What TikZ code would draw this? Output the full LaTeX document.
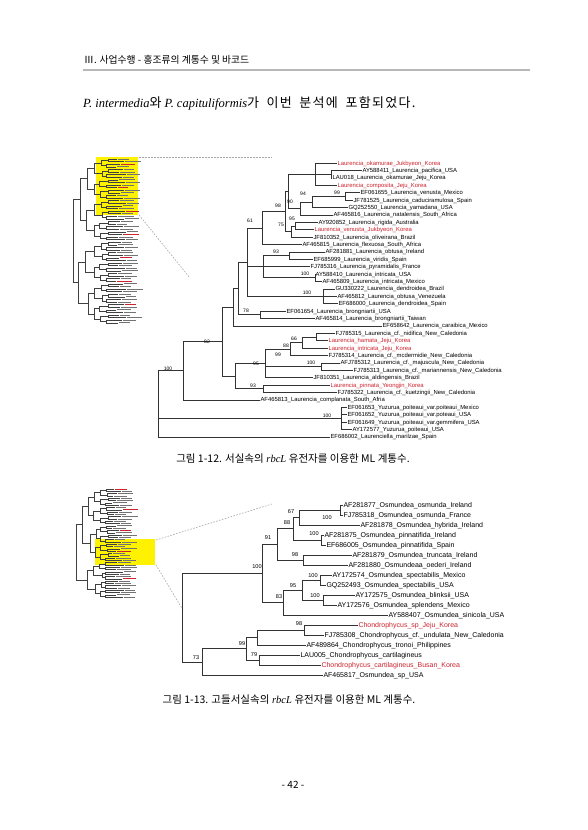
\documentclass[tikz,border=0pt]{standalone}
\usepackage{fontspec}
\setmainfont{Liberation Serif}
\newfontfamily\kr{Noto Sans CJK KR}
\newfontfamily\krw[LetterSpace=10,WordSpace=1.8]{Noto Sans CJK KR}
\newfontfamily\arial{Liberation Sans}
\definecolor{lred}{RGB}{205,35,45}
\definecolor{hl}{RGB}{255,242,0}
\newcommand\minitree[7]{%
 \foreach \L in {1,...,#3}{%
  \pgfmathtruncatemacro\nn{2^(#3-\L)-1}%
  \foreach \j in {0,...,\nn}{%
   \pgfmathsetmacro\xn{#4+(#3-\L)*#5-mod(\j*(\L+#7)+#7,4)}%
   \pgfmathtruncatemacro\ca{2*\j}%
   \pgfmathtruncatemacro\cb{2*\j+1}%
   \pgfmathsetmacro\ya{#1+#2*(\ca*2^(\L-1)+(2^(\L-1)-1)/2)}%
   \pgfmathsetmacro\yb{#1+#2*(\cb*2^(\L-1)+(2^(\L-1)-1)/2)}%
   \ifnum\L=1
     \pgfmathsetmacro\xa{#6+mod(\ca*7+#7,11)}%
     \pgfmathsetmacro\xb{#6+mod(\cb*7+#7,11)}%
   \else
     \pgfmathsetmacro\xa{#4+(#3-\L+1)*#5-mod(\ca*(\L-1+#7)+#7,4)}%
     \pgfmathsetmacro\xb{#4+(#3-\L+1)*#5-mod(\cb*(\L-1+#7)+#7,4)}%
   \fi
   \draw[thb] (\xa,\ya) -- (\xn,\ya) -- (\xn,\yb) -- (\xb,\yb);%
  }%
 }%
 \pgfmathtruncatemacro\nl{2^#3-1}%
 \foreach \i in {0,...,\nl}{%
   \pgfmathsetmacro\xl{#6+mod(\i*7+#7,11)+1}%
   \pgfmathsetmacro\xe{\xl+10+mod(\i*5+#7,7)}%
   \pgfmathsetmacro\yl{#1+#2*\i}%
   \pgfmathtruncatemacro\rr{mod(\i*5+#7,9)==2 ? 1 : 0}%
   \ifnum\rr=1 \def\cc{lred}\else\def\cc{black!55}\fi
   \draw[line width=0.8pt, draw=\cc] (\xl,\yl) -- (\xe,\yl);%
 }%
}
\begin{document}
\begin{tikzpicture}[x=1pt,y=-1pt,
  br/.style={draw=black!80, line width=0.45pt},
  brb/.style={draw=black!80, line width=0.55pt},
  thb/.style={draw=black!75, line width=0.35pt},
  lfa/.style={font=\arial\fontsize{5.9}{6}\selectfont, anchor=west, inner sep=0.3pt, text height=4.3pt, text depth=0.3pt},
  lfb/.style={font=\arial\fontsize{7}{7}\selectfont, anchor=west, inner sep=0.3pt, text height=5.1pt, text depth=0.3pt},
  bsa/.style={font=\arial\fontsize{5}{5}\selectfont, inner sep=0pt},
  bsb/.style={font=\arial\fontsize{5.6}{6}\selectfont, inner sep=0pt},
  dsh/.style={draw=black!35, line width=0.6pt, dash pattern=on 1.6pt off 1.4pt}
]
\fill[white] (0,0) rectangle (587,830);
\useasboundingbox (0,0) rectangle (587,830);

% header
\node[anchor=west, inner sep=0pt] (hdr) at (84,60) {\kr\fontsize{9.8}{11}\selectfont Ⅲ. 사업수행 - 홍조류의 계통수 및 바코드};
\draw[draw=black!28, line width=2pt] (83,70) -- (530,70);
\node[anchor=west, inner sep=0pt] (intro) at (83,103) {\fontsize{12.5}{14}\selectfont\textit{P. intermedia}{\krw\fontsize{13}{14}\selectfont 와} \textit{P. capituliformis}{\krw\fontsize{13}{14}\selectfont 가 이번 분석에 포함되었다.}};

% ---------- thumbnail 1
\fill[hl] (96,157) rectangle (138,215);
\minitree{159}{2.6}{6}{74}{7}{116}{1}
\draw[dsh] (139,157) -- (272,157);
\draw[dsh] (139,215) -- (190,278);

% ---------- tree 1 leaves
\foreach \x/\c/\t [count=\i] in {
337/lred/Laurencia\_okamurae\_Jukbyeon\_Korea,
362/black/AY588411\_Laurencia\_pacifica\_USA,
332/black/LAU018\_Laurencia\_okamurae\_Jeju\_Korea,
337/lred/Laurencia\_composita\_Jeju\_Korea,
360/black/EF061655\_Laurencia\_venusta\_Mexico,
353/black/JF781525\_Laurencia\_caduciramulosa\_Spain,
348/black/GQ252550\_Laurencia\_yamadana\_USA,
333/black/AF465816\_Laurencia\_natalensis\_South\_Africa,
318/black/AY920852\_Laurencia\_rigida\_Australia,
314/lred/Laurencia\_venusta\_Jukbyeon\_Korea,
313/black/JF810352\_Laurencia\_oliveirana\_Brazil,
302/black/AF465815\_Laurencia\_flexuosa\_South\_Africa,
325/black/AF281881\_Laurencia\_obtusa\_Ireland,
313/black/EF685999\_Laurencia\_viridis\_Spain,
310/black/FJ785316\_Laurencia\_pyramidalis\_France,
315/black/AY588410\_Laurencia\_intricata\_USA,
322/black/AF465809\_Laurencia\_intricata\_Mexico,
335/black/GU330222\_Laurencia\_dendroidea\_Brazil,
337/black/AF465812\_Laurencia\_obtusa\_Venezuela,
338/black/EF686000\_Laurencia\_dendroidea\_Spain,
286/black/EF061654\_Laurencia\_brongniartii\_USA,
315/black/AF465814\_Laurencia\_brongniartii\_Taiwan,
382/black/EF658642\_Laurencia\_caraibica\_Mexico,
335/black/FJ785315\_Laurencia\_cf.\_nidifica\_New\_Caledonia,
328/lred/Laurencia\_hamata\_Jeju\_Korea,
328/lred/Laurencia\_intricata\_Jeju\_Korea,
328/black/FJ785314\_Laurencia\_cf.\_mcdermidie\_New\_Caledonia,
340/black/AFJ785312\_Laurencia\_cf.\_majuscula\_New\_Caledonia,
353/black/FJ785313\_Laurencia\_cf.\_mariannensis\_New\_Caledonia,
313/black/JF810351\_Laurencia\_aldingensis\_Brazil,
330/lred/Laurencia\_pinnata\_Yeongjin\_Korea,
337/black/FJ785322\_Laurencia\_cf.\_kuetzingii\_New\_Caledonia,
260/black/AF465813\_Laurencia\_complanata\_South\_Afria,
347/black/EF061653\_Yuzurua\_poiteaui\_var.poiteaui\_Mexico,
347/black/EF061652\_Yuzurua\_poiteaui\_var.poteaui\_USA,
347/black/EF061649\_Yuzurua\_poiteaui\_var.gemmifera\_USA,
352/black/AY172577\_Yuzurua\_poiteaui\_USA,
330/black/EF686002\_Laurenciella\_marilzae\_Spain}
{\pgfmathsetmacro\yy{163+7.4*(\i-1)}
 \node[lfa, text=\c] (L\i) at (\x,\yy) {\t};}

% tree 1 internal nodes
\coordinate (ta2) at (331,174.1);
\coordinate (tcA) at (315,174.1);
\coordinate (t99) at (345,196.3);
\coordinate (t94) at (312,201.85);
\coordinate (t90) at (300,208.3);
\coordinate (tV) at (288,191.2);
\coordinate (t95) at (295,225.9);
\coordinate (t75) at (291,231.45);
\coordinate (tU) at (285,211.3);
\coordinate (t61) at (262,227.9);
\coordinate (t93) at (289,255.5);
\coordinate (t100d) at (315,277.7);
\coordinate (tB) at (263,266.6);
\coordinate (t100e) at (323,296.2);
\coordinate (tA) at (247,262);
\coordinate (t78) at (260,314.7);
\coordinate (tC) at (238,288.4);
\coordinate (tD) at (233,307.1);
\coordinate (t66) at (316,336.9);
\coordinate (t88) at (302,342.45);
\coordinate (t99b) at (290,348.9);
\coordinate (t100c) at (321,366.5);
\coordinate (t95b) at (265,363.25);
\coordinate (t93b) at (263,388.7);
\coordinate (tX) at (235,376);
\coordinate (t82) at (222,341.5);
\coordinate (t100a) at (183,370.65);
\coordinate (t100f) at (341,418.3);
\coordinate (troot) at (158,403.7);

\foreach \p/\c in {ta2/L2, ta2/L3, tcA/L1, tcA/ta2, tcA/L4, t99/L5, t99/L6, t94/t99, t94/L7,
 t90/t94, t90/L8, tV/tcA, tV/t90, t95/L9, t95/L10, t75/t95, t75/L11, tU/tV, tU/t75, t61/tU, t61/L12,
 t93/L13, t93/L14, t100d/L16, t100d/L17, tB/t93, tB/L15, tB/t100d, t100e/L18, t100e/L19, t100e/L20,
 tA/t61, tA/tB, tA/t100e, t78/L21, t78/L22, tC/tA, tC/t78, tD/tC, tD/L23, t66/L24, t66/L25, t88/t66,
 t88/L26, t99b/t88, t99b/L27, t100c/L28, t100c/L29, t95b/t99b, t95b/t100c, t95b/L30, t93b/L31,
 t93b/L32, tX/t95b, tX/t93b, t82/tD, t82/tX, t100a/t82, t100a/L33, t100f/L34, t100f/L35, t100f/L36,
 t100f/L37, troot/t100a, troot/t100f, troot/L38}
 {\draw[br] (\p) |- (\c);}

\foreach \t/\x/\y [count=\k] in {61/250/221, 98/278/206, 90/290/202, 94/303/194, 99/337/193,
 75/281/225, 95/292/219, 93/276/252, 100/305/274, 100/307/293, 78/246/311, 100/168/369, 82/207/342,
 66/294/339, 88/286/346, 99/278/355, 100/311/363, 95/256/364, 93/253/386, 100/327/416}
 {\node[bsa] (bs\k) at (\x,\y) {\t};}

\node[inner sep=0pt] (cap1) at (293,459) {\fontsize{10.5}{12}\selectfont{\kr 그림 1-12. 서실속의} \textit{rbcL} {\kr 유전자를 이용한 ML 계통수.}};

% ---------- thumbnail 2
\fill[hl] (95,539) rectangle (155,565);
\minitree{489}{2.3}{5}{84}{6}{112}{2}
\minitree{562.6}{2.3}{4}{90}{6}{114}{3}
\draw[thb] (82,524.65) -- (76,524.65) -- (76,579.85) -- (87,579.85);
\draw[dsh] (156,540) -- (272,504);
\draw[dsh] (156,565) -- (183,610);

% ---------- tree 2 leaves
\foreach \x/\c/\t [count=\i] in {
343/black/AF281877\_Osmundea\_osmunda\_Ireland,
343/black/FJ785318\_Osmundea\_osmunda\_France,
360/black/AF281878\_Osmundea\_hybrida\_Ireland,
324/black/AF281875\_Osmundea\_pinnatifida\_Ireland,
326/black/EF686005\_Osmundea\_pinnatifida\_Spain,
352/black/AF281879\_Osmundea\_truncata\_Ireland,
348/black/AF281880\_Osmundeaa\_oederi\_Ireland,
332/black/AY172574\_Osmundea\_spectabilis\_Mexico,
326/black/GQ252493\_Osmundea\_spectabilis\_USA,
355/black/AY172575\_Osmundea\_blinksii\_USA,
337/black/AY172576\_Osmundea\_splendens\_Mexico,
388/black/AY588407\_Osmundea\_sinicola\_USA,
358/lred/Chondrophycus\_sp\_Jeju\_Korea,
324/black/FJ785308\_Chondrophycus\_cf.\_undulata\_New\_Caledonia,
306/black/AF489864\_Chondrophycus\_tronoi\_Philippines,
300/black/LAU005\_Chondrophycus\_cartilagineus,
321/lred/Chondrophycus\_cartilagineus\_Busan\_Korea,
323/black/AF465817\_Osmundea\_sp\_USA}
{\pgfmathsetmacro\yy{505+10*(\i-1)}
 \node[lfb, text=\c] (M\i) at (\x,\yy) {\t};}

\coordinate (u100a) at (340,510);
\coordinate (u67) at (299,517.5);
\coordinate (u100b) at (321,540);
\coordinate (u88) at (293,528.75);
\coordinate (u98) at (303,560);
\coordinate (u91) at (277,544.4);
\coordinate (u100d) at (320,580);
\coordinate (u100e) at (323,600);
\coordinate (u95) at (302,590);
\coordinate (u83) at (283,602.5);
\coordinate (u100c) at (262,573.45);
\coordinate (u98b) at (304,630);
\coordinate (uc) at (257,637.5);
\coordinate (u79) at (259,660);
\coordinate (u99) at (246,648.75);
\coordinate (u73) at (202,661.9);
\coordinate (uroot) at (182,617.7);

\foreach \p/\c in {u100a/M1, u100a/M2, u67/u100a, u67/M3, u100b/M4, u100b/M5, u88/u67, u88/u100b,
 u98/M6, u98/M7, u91/u88, u91/u98, u100d/M8, u100d/M9, u100e/M10, u100e/M11, u95/u100d, u95/u100e,
 u83/u95, u83/M12, u100c/u91, u100c/u83, u98b/M13, u98b/M14, uc/u98b, uc/M15, u79/M16, u79/M17,
 u99/uc, u99/u79, u73/u99, u73/M18, uroot/u100c, uroot/u73}
 {\draw[brb] (\p) |- (\c);}

\foreach \t/\x/\y [count=\k] in {67/291/512, 100/327/518, 88/287/523, 100/314/534, 91/268/538,
 98/295/555, 100/257/567, 100/313/576, 95/293/586, 100/315/596, 83/279/597, 98/299/624, 99/242/644,
 79/254/655, 73/196/658}
 {\node[bsb] (bt\k) at (\x,\y) {\t};}

\node[inner sep=0pt] (cap2) at (289,700) {\fontsize{10.5}{12}\selectfont{\kr 그림 1-13. 고들서실속의} \textit{rbcL} {\kr 유전자를 이용한 ML 계통수.}};

\node[inner sep=0pt] (pg) at (293,785) {\kr\fontsize{10}{12}\selectfont - 42 -};
\end{tikzpicture}
\end{document}
